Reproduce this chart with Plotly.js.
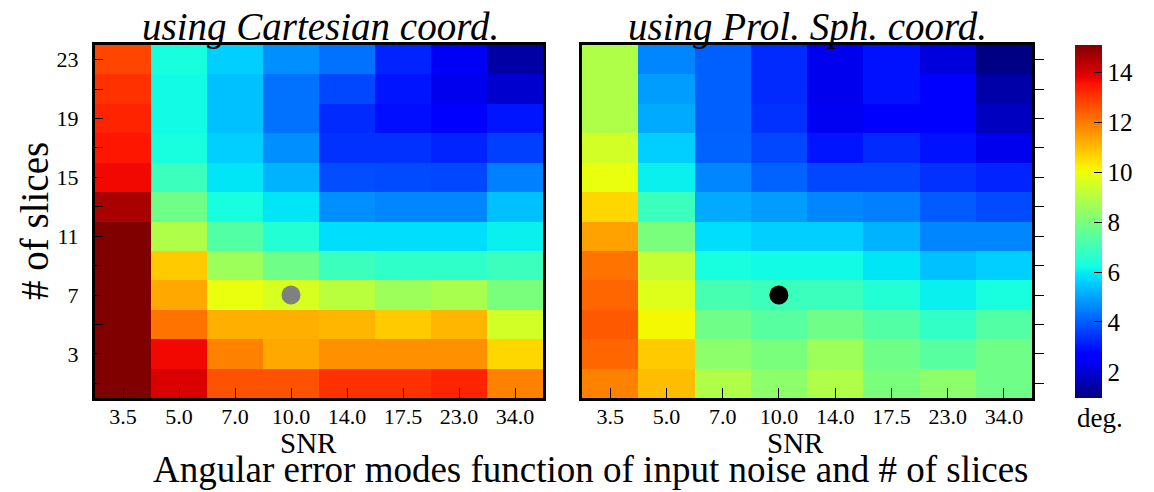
<!DOCTYPE html>
<html><head><meta charset="utf-8">
<script src="https://cdn.plot.ly/plotly-3.0.1.min.js"></script>
<style>html,body{margin:0;padding:0;background:#fff}</style>
</head><body><div id="chart" style="width:1154px;height:492px"></div>
<script>
// ---- data ----
const snr = ['3.5', '5.0', '7.0', '10.0', '14.0', '17.5', '23.0', '34.0'];
const slices = [1, 3, 5, 7, 9, 11, 13, 15, 17, 19, 21, 23];
const sliceLabels = ['', '3', '', '7', '', '11', '', '15', '', '19', '', '23'];
const colorbarTicks = [2, 4, 6, 8, 10, 12, 14];
// rows follow slices (1 .. 23), columns follow snr
const cartesianErr = [
  [15.3, 14.0, 12.6, 12.6, 13.1, 13.1, 13.3, 11.9],
  [15.3, 13.7, 11.9, 11.3, 11.65, 11.65, 11.65, 10.6],
  [15.3, 12.1, 11.2, 11.2, 11.1, 10.8, 11.1, 9.5],
  [15.3, 11.3, 9.9, 9.6, 9.1, 8.6, 8.8, 8.0],
  [15.3, 10.8, 8.6, 7.8, 6.9, 6.7, 6.7, 6.9],
  [15.3, 8.9, 7.3, 6.5, 5.8, 5.8, 5.8, 6.05],
  [14.6, 7.8, 6.3, 5.9, 4.7, 4.6, 4.6, 5.4],
  [13.7, 6.9, 5.9, 5.2, 3.8, 3.75, 3.7, 4.5],
  [13.5, 6.3, 5.6, 4.7, 3.4, 3.4, 3.2, 3.6],
  [13.3, 6.2, 5.4, 4.3, 3.3, 2.9, 2.5, 3.0],
  [13.1, 6.2, 5.4, 4.3, 3.7, 3.0, 2.3, 1.9],
  [12.8, 6.3, 5.6, 4.7, 4.3, 3.2, 2.4, 1.4]
];
const prolateErr = [
  [11.9, 11.0, 8.9, 8.3, 8.9, 8.0, 8.3, 7.8],
  [12.3, 10.8, 8.3, 8.0, 8.6, 7.8, 7.4, 7.8],
  [12.5, 10.1, 7.8, 7.4, 7.8, 7.3, 6.75, 7.3],
  [12.3, 9.7, 7.1, 6.9, 6.9, 6.5, 6.05, 6.3],
  [12.1, 9.3, 6.3, 6.2, 6.2, 5.9, 5.4, 5.6],
  [11.4, 8.0, 5.8, 5.6, 5.6, 5.2, 4.6, 4.6],
  [10.6, 6.9, 5.1, 4.9, 4.6, 4.5, 4.0, 3.75],
  [9.9, 6.05, 4.6, 4.1, 3.7, 3.7, 3.4, 3.2],
  [9.5, 5.6, 4.1, 3.7, 3.0, 3.3, 2.95, 2.3],
  [8.9, 5.1, 4.05, 3.4, 2.35, 2.7, 2.7, 1.75],
  [8.9, 4.9, 4.05, 3.3, 2.3, 2.95, 2.5, 1.45],
  [8.9, 4.6, 4.05, 3.3, 2.3, 2.95, 2.1, 1.0]
];
const markedSNR = ['10.0'];
const markedSlices = [7];

// matplotlib-like jet
const jet = [
  [0, 'rgb(0,0,128)'], [0.11, 'rgb(0,0,255)'], [0.125, 'rgb(0,0,255)'],
  [0.34, 'rgb(0,219,255)'], [0.35, 'rgb(0,230,247)'], [0.375, 'rgb(21,255,226)'],
  [0.64, 'rgb(239,255,8)'], [0.65, 'rgb(247,245,0)'], [0.66, 'rgb(255,236,0)'],
  [0.89, 'rgb(255,19,0)'], [0.91, 'rgb(232,0,0)'], [1, 'rgb(128,0,0)']
];

const W = 1154, H = 492;
const px = v => v / W, py = v => 1 - v / H;
const FONT = '"Liberation Serif", "Times New Roman", serif';

const traces = [
  {type: 'heatmap', x: snr, y: slices, z: cartesianErr, coloraxis: 'coloraxis', xaxis: 'x', yaxis: 'y', hoverinfo: 'skip'},
  {type: 'heatmap', x: snr, y: slices, z: prolateErr, coloraxis: 'coloraxis', xaxis: 'x2', yaxis: 'y2', hoverinfo: 'skip'},
  {type: 'scatter', mode: 'markers', x: markedSNR, y: markedSlices, xaxis: 'x', yaxis: 'y',
   marker: {size: 19, color: 'rgb(128,128,128)'}, showlegend: false},
  {type: 'scatter', mode: 'markers', x: markedSNR, y: markedSlices, xaxis: 'x2', yaxis: 'y2',
   marker: {size: 19, color: 'black'}, showlegend: false}
];

const tickfont = {family: FONT, size: 22, color: 'black'};
const yDom = [py(398), py(45)];
function xMain(dom, anchor) {
  return {domain: dom, anchor: anchor, type: 'category', range: [-0.5, 7.5],
    showline: true, linewidth: 3, linecolor: 'black', mirror: true,
    ticks: 'inside', ticklen: 10, tickwidth: 1, tickcolor: 'black', ticklabelstandoff: -3,
    tickfont: tickfont, showgrid: false, zeroline: false, fixedrange: true};
}
function xTop(over, anchor) {
  return {overlaying: over, anchor: anchor, side: 'top', type: 'linear', range: [-0.5, 7.5],
    tickvals: [0, 1, 2, 3, 4, 5, 6, 7], ticks: 'outside', ticklen: 10, tickwidth: 1, tickcolor: 'black',
    showticklabels: false, showline: false, showgrid: false, zeroline: false};
}
const ann = (text, x, y, size, extra) => Object.assign({text: text, x: px(x), y: py(y),
  xref: 'paper', yref: 'paper', showarrow: false, xanchor: 'center', yanchor: 'middle',
  font: {family: FONT, size: size, color: 'black'}}, extra || {});

const layout = {
  width: W, height: H,
  margin: {l: 0, r: 0, t: 0, b: 0, autoexpand: false},
  paper_bgcolor: 'white', plot_bgcolor: 'white',
  showlegend: false,
  font: {family: FONT, color: 'black'},
  xaxis: xMain([px(95), px(543)], 'y'),
  xaxis2: xMain([px(582), px(1032)], 'y2'),
  xaxis3: xTop('x', 'y'),
  xaxis4: xTop('x2', 'y2'),
  yaxis: {domain: yDom, anchor: 'x', range: [0, 24], tickvals: slices, ticktext: sliceLabels,
    ticks: 'inside', ticklen: 8, tickwidth: 1, tickcolor: 'black', tickfont: tickfont, ticklabelstandoff: 9,
    showline: true, linewidth: 3, linecolor: 'black', mirror: true,
    showgrid: false, zeroline: false},
  yaxis2: {domain: yDom, anchor: 'x2', side: 'right', range: [0, 24], tickvals: slices,
    ticks: 'outside', ticklen: 9, tickwidth: 1, tickcolor: 'black', showticklabels: false,
    showline: true, linewidth: 3, linecolor: 'black', mirror: true,
    showgrid: false, zeroline: false},
  coloraxis: {colorscale: jet, cmin: 0.95, cmax: 15.1,
    colorbar: {x: px(1075), xanchor: 'left', y: py(398), yanchor: 'bottom',
      len: 353 / H, lenmode: 'fraction', thickness: 27, thicknessmode: 'pixels',
      xpad: 0, ypad: 0, outlinewidth: 0, ticks: 'inside', ticklen: 8, tickcolor: 'black',
      tickvals: colorbarTicks, tickfont: {family: FONT, size: 25, color: 'black'}}},
  annotations: [
    ann('<i>using Cartesian coord.</i>', 320, 27, 39),
    ann('<i>using Prol. Sph. coord.</i>', 807, 27, 39),
    ann('# of slices', 34, 221, 39, {textangle: -90}),
    ann('SNR', 308, 443, 29),
    ann('SNR', 795, 443, 29),
    ann('deg.', 1100, 418, 27),
    ann('Angular error modes function of input noise and # of slices', 590, 469, 37)
  ]
};

Plotly.newPlot('chart', traces, layout, {displayModeBar: false, staticPlot: true});
</script></body></html>
